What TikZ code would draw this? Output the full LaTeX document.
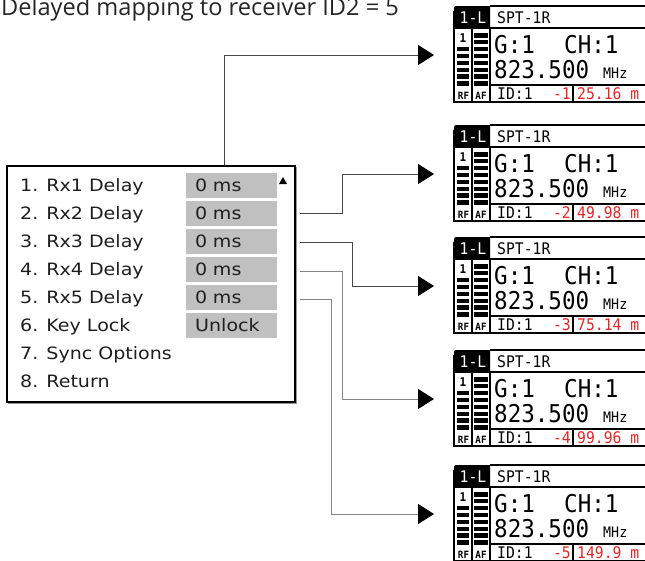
\documentclass[tikz,border=0pt]{standalone}
\usepackage{fontspec}
\setmainfont{DejaVu Sans}
\newfontfamily\titlefont{Open Sans}
\newfontfamily\menufont[FakeStretch=1.12]{DejaVu Sans}
\newfontfamily\lcdfont[FakeStretch=0.92]{DejaVu Sans Mono}
\usetikzlibrary{arrows.meta,calc}
\definecolor{lcdred}{RGB}{228,38,38}
\definecolor{valgray}{RGB}{192,192,192}
\definecolor{menutext}{RGB}{30,30,30}
\tikzset{
  conn/.style={draw=black!72, line width=1pt, -{Triangle[length=16pt,width=20pt,color=black,fill=black]}},
  connlight/.style={conn, draw=black!48},
  menuitem/.style={anchor=base west, inner sep=0pt, text=menutext, font=\menufont\fontsize{17}{17}\selectfont},
  valbox/.style={anchor=west, fill=valgray, text width=73pt, inner xsep=9pt, inner ysep=0pt, minimum height=25pt, text=menutext, font=\menufont\fontsize{17}{17}\selectfont},
  lcdline/.style={draw=black, line width=1.4pt},
  lcdbar/.style={fill=black},
  lcdtxt/.style={inner sep=0pt, font=\lcdfont\fontsize{#1}{#1}\selectfont},
  lcdbold/.style={inner sep=0pt, font=\lcdfont\bfseries\fontsize{#1}{#1}\selectfont},
}
\newcommand\rxpanel[4]{%
  \begin{scope}[shift={(0,#2)}]
    \fill[black] (454,22) -- (454,5) .. controls (454,0) .. (459,0) -- (490,0) -- (490,22) -- cycle;
    \draw[lcdline] (490,0) -- (660,0);
    \draw[lcdline] (454,22) -- (660,22);
    \draw[lcdline] (454,5) -- (454,96) -- (660,96);
    \draw[lcdline] (472,22) -- (472,96);
    \draw[lcdline] (490,22) -- (490,96);
    \draw[lcdline] (490,79) -- (660,79);
    \draw[lcdline] (573,79) -- (573,96);
    \foreach \k in {0,...,7} {
      \fill[lcdbar] (474,{27+6.9*\k}) rectangle (487.5,{31.5+6.9*\k});
    }
    \foreach \k in {2,...,7} {
      \fill[lcdbar] (457,{27+6.9*\k}) rectangle (468.5,{31.5+6.9*\k});
    }
    \node[lcdtxt=16, text=white] (p#1tab) at (473,11.5) {1-L};
    \node[lcdtxt=16, anchor=base west] (p#1name) at (497,17.5) {SPT-1R};
    \node[lcdbold=12] (p#1lvl) at (463,32) {1};
    \node[lcdbold=10] (p#1rf) at (463.5,89.5) {RF};
    \node[lcdbold=10] (p#1af) at (481,89.5) {AF};
    \node[lcdtxt=24.5, anchor=base west] (p#1g) at (494,47.5) {G:1};
    \node[lcdtxt=24.5, anchor=base west] (p#1ch) at (564,47.5) {CH:1};
    \node[lcdtxt=24.5, anchor=base west] (p#1f) at (494,72) {823.500};
    \node[lcdtxt=14.5, anchor=base west] (p#1mhz) at (603,72) {MHz};
    \node[lcdtxt=16, anchor=base west] (p#1id) at (497,93.5) {ID:1};
    \node[lcdtxt=16, anchor=base east, text=lcdred] (p#1n) at (571,93.5) {-#3};
    \node[lcdtxt=16, anchor=base west, text=lcdred] (p#1d) at (577,93.5) {#4 m};
    \coordinate (t#1) at (434,49);
  \end{scope}
}
\begin{document}
\begin{tikzpicture}[x=1pt,y=-1pt]
  \useasboundingbox (0,0) rectangle (645,560);
  \fill[white] (0,0) rectangle (645,560);
  \clip (0,0) rectangle (645,560);
  % title
  \node[anchor=base west, inner sep=0pt, text=black!85, font=\titlefont\fontsize{23.6}{28}\selectfont] (title) at (1,15) {Delayed mapping to receiver ID2 = 5};
  % menu box
  \draw[draw=black!40, line width=1.5pt] (8.5,167.5) rectangle (296.5,403.5);
  \node[draw=black, line width=1.5pt, fill=white, anchor=north west, minimum width=288pt, minimum height=236pt, inner sep=0pt] (menu) at (6,165) {};
  \fill[black] (279,184) -- (287,184) -- (283,177) -- cycle;
  \foreach \i/\lab in {1/{1. Rx1 Delay},2/{2. Rx2 Delay},3/{3. Rx3 Delay},4/{4. Rx4 Delay},5/{5. Rx5 Delay},6/{6. Key Lock},7/{7. Sync Options},8/{8. Return}} {
    \node[menuitem] (m\i) at (20,{191+28*(\i-1)}) {\lab};
  }
  \foreach \i/\val in {1/{0 ms},2/{0 ms},3/{0 ms},4/{0 ms},5/{0 ms},6/{Unlock}} {
    \node[valbox] (v\i) at (186,{185+28*(\i-1)}) {\val};
  }
  % panels
  \rxpanel{1}{6}{1}{25.16}
  \rxpanel{2}{125}{2}{49.98}
  \rxpanel{3}{237}{3}{75.14}
  \rxpanel{4}{350}{4}{99.96}
  \rxpanel{5}{465}{5}{149.9}
  % connector start points
  \coordinate (s1) at (224,165);
  \coordinate (s2) at (300,213);
  \coordinate (s3) at (300,242);
  \coordinate (s4) at (300,271);
  \coordinate (s5) at (300,299);
  \draw[conn] (s1) |- (t1);
  \draw[conn] (s2) -- ++(42,0) |- (t2);
  \draw[conn] (s3) -- ++(52,0) |- (t3);
  \draw[connlight] (s4) -- ++(42,0) |- (t4);
  \draw[connlight] (s5) -- ++(31,0) |- (t5);
\end{tikzpicture}
\end{document}
